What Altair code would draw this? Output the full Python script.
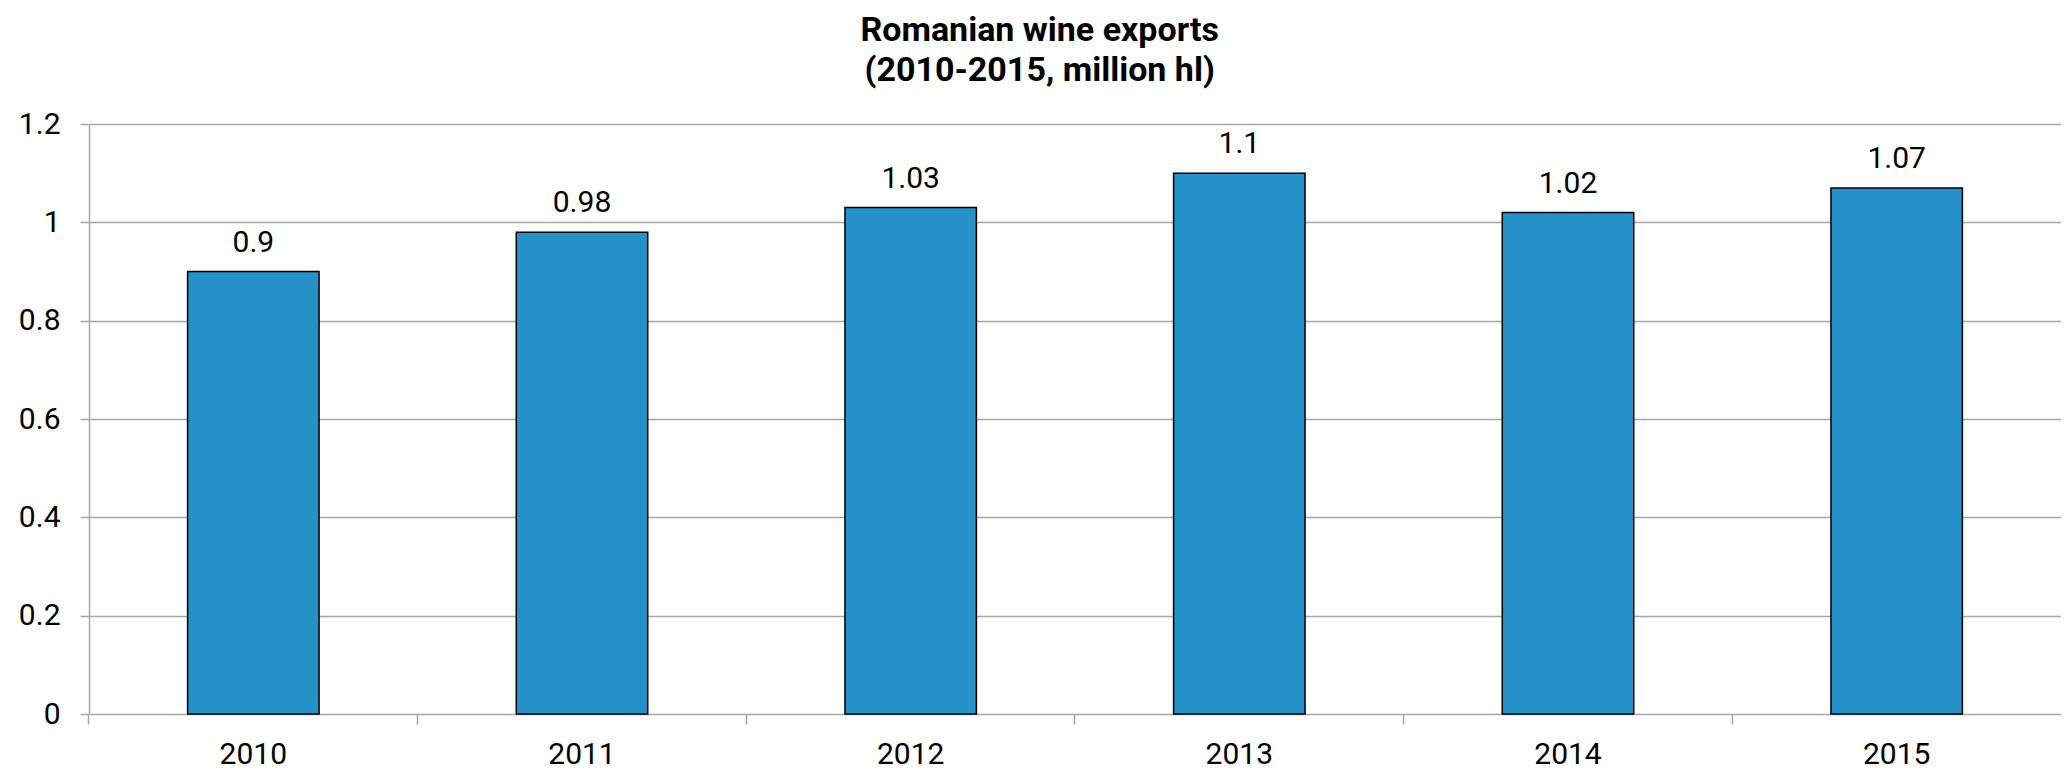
import altair as alt
import pandas as pd

years = ["2010", "2011", "2012", "2013", "2014", "2015"]
exports = [0.9, 0.98, 1.03, 1.1, 1.02, 1.07]
value_labels = ["0.9", "0.98", "1.03", "1.1", "1.02", "1.07"]
y_ticks = [0, 0.2, 0.4, 0.6, 0.8, 1.0, 1.2]

df = pd.DataFrame({"year": years, "value": exports, "label": value_labels})

FONT = "Roboto"
GRID = "#A6A6A6"
BAR = "#2492C8"

x_enc = alt.X(
    "year:N",
    sort=years,
    scale=alt.Scale(paddingInner=0.6, paddingOuter=0.3),
    axis=alt.Axis(
        title=None,
        labelAngle=0,
        labelFont=FONT,
        labelFontSize=30,
        labelColor="#000000",
        labelBaseline="bottom",
        labelPadding=45,
        tickSize=10,
        tickColor=GRID,
        tickWidth=1.5,
        bandPosition=-0.75,
        domain=False,
        grid=False,
    ),
)

y_enc = alt.Y(
    "value:Q",
    scale=alt.Scale(domain=[0, 1.2], nice=False),
    axis=alt.Axis(
        title=None,
        values=y_ticks,
        format="~g",
        labelFont=FONT,
        labelFontSize=30,
        labelColor="#000000",
        labelPadding=20,
        tickSize=9,
        tickColor=GRID,
        tickWidth=1.5,
        domainColor=GRID,
        domainWidth=1.5,
        gridColor=GRID,
        gridWidth=1.5,
    ),
)

bars = alt.Chart(df).mark_bar(
    color=BAR, stroke="#000000", strokeWidth=1.5
).encode(x=x_enc, y=y_enc)

labels = alt.Chart(df).mark_text(
    font=FONT, fontSize=30, color="#000000", baseline="alphabetic", dy=-20
).encode(x=alt.X("year:N", sort=years), y="value:Q", text="label:N")

chart = (
    alt.layer(bars, labels)
    .properties(
        width=1972,
        height=590,
        autosize=alt.AutoSizeParams(type="none"),
        padding={"left": 81, "top": 116, "right": 0, "bottom": 55},
        title=alt.TitleParams(
            text=["Romanian wine exports", "(2010-2015, million hl)"],
            font=FONT,
            fontSize=34,
            fontWeight="bold",
            color="#000000",
            anchor="middle",
            frame="bounds",
            lineHeight=40,
            offset=21,
        ),
    )
    .configure_view(stroke=None)
)

chart.save("out.html", embed_options={"renderer": "svg", "actions": False})
